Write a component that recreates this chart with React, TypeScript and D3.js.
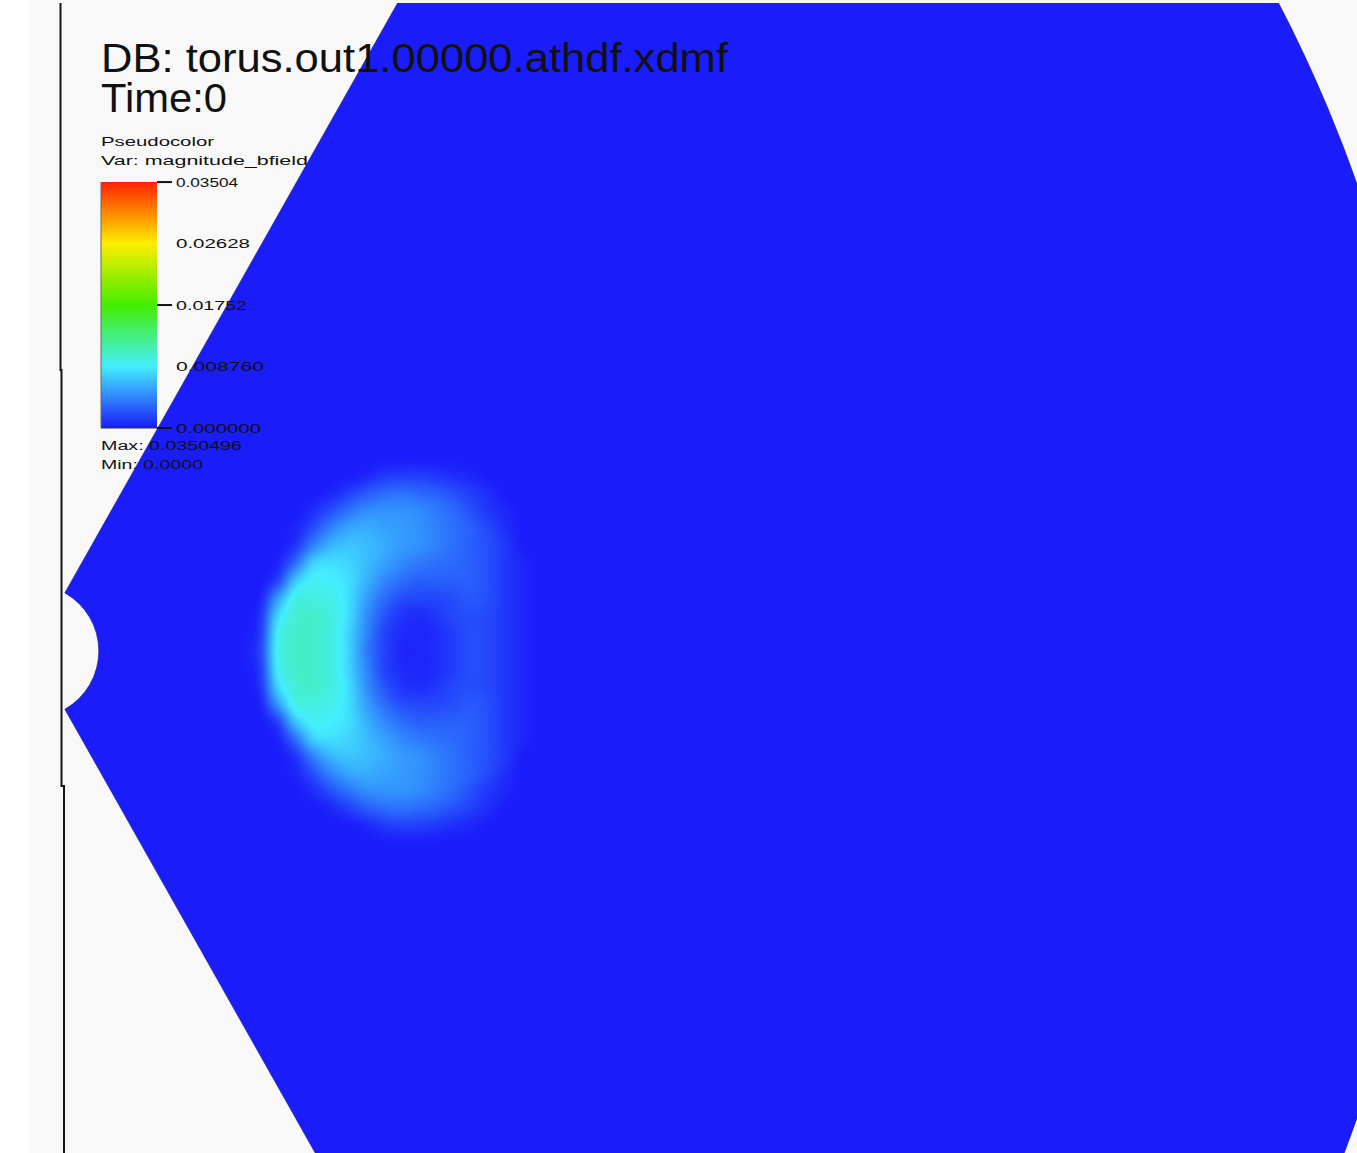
import React, { useMemo } from "react";
import * as d3 from "d3";

const W = 1357;
const H = 1153;

// Plot header and legend text
const titleLines = ["DB: torus.out1.00000.athdf.xdmf", "Time:0"];
const legendTitle = ["Pseudocolor", "Var: magnitude_bfield"];
const fieldMin = 0;
const fieldMax = 0.0350496;
const legendTicks = [0.03504, 0.02628, 0.01752, 0.00876, 0];
const legendTickLabels = ["0.03504", "0.02628", "0.01752", "0.008760", "0.000000"];
const legendTickMarked = [true, false, true, false, true];

// Mesh extent (code units): spherical-polar shell
const rInner = 1.9;
const rOuter = 40;
const thetaMin = 0.1635 * Math.PI;
const thetaMax = 0.8365 * Math.PI;

// |B| samples on the meridional plane: columns at cylindrical x, rows at height z
const gridX = [6.5, 7, 7.5, 8, 8.5, 9, 9.5, 10, 10.5, 11, 11.5, 12, 12.5, 13, 13.5, 14];
const gridZ = [5.5, 5, 4.5, 4, 3.5, 3, 2.5, 2, 1.5, 1, 0.5, 0, -0.5, -1, -1.5, -2, -2.5, -3, -3.5, -4, -4.5, -5, -5.5];
const bZp55 = [0, 0, 0, 0, 0, 0, 0, 0, 0, 0, 0, 0, 0, 0, 0, 0];
const bZp50 = [0, 0, 0, 0, 0, 0, 0.0004, 0.0011, 0.0014, 0.0014, 0.0011, 0.0007, 0.0004, 0, 0, 0];
const bZp45 = [0, 0, 0, 0, 0.0004, 0.0014, 0.0025, 0.0032, 0.0035, 0.0032, 0.0028, 0.0021, 0.0014, 0.0007, 0, 0];
const bZp40 = [0, 0, 0, 0.0007, 0.0021, 0.0035, 0.0046, 0.0049, 0.0049, 0.0046, 0.0039, 0.0032, 0.0021, 0.0011, 0.0004, 0];
const bZp35 = [0, 0, 0.0004, 0.0021, 0.0042, 0.0056, 0.006, 0.0056, 0.0053, 0.0049, 0.0042, 0.0035, 0.0028, 0.0018, 0.0007, 0];
const bZp30 = [0, 0, 0.0011, 0.0042, 0.0063, 0.007, 0.0067, 0.006, 0.0053, 0.0049, 0.0042, 0.0035, 0.0028, 0.0021, 0.0011, 0];
const bZp25 = [0, 0.0004, 0.0035, 0.0074, 0.0081, 0.0077, 0.0067, 0.0056, 0.0046, 0.0039, 0.0035, 0.0032, 0.0028, 0.0021, 0.0011, 0.0004];
const bZp20 = [0, 0.0018, 0.007, 0.0091, 0.0088, 0.0081, 0.0063, 0.0046, 0.0035, 0.0028, 0.0028, 0.0028, 0.0028, 0.0021, 0.0011, 0.0004];
const bZp15 = [0.0004, 0.0053, 0.0095, 0.0098, 0.0095, 0.0081, 0.0056, 0.0035, 0.0021, 0.0018, 0.0018, 0.0021, 0.0025, 0.0021, 0.0011, 0.0004];
const bZp10 = [0.0011, 0.0077, 0.0102, 0.0105, 0.0098, 0.0081, 0.0049, 0.0025, 0.0011, 0.0007, 0.0011, 0.0018, 0.0021, 0.0018, 0.0011, 0.0004];
const bZp05 = [0.0014, 0.0088, 0.0105, 0.0105, 0.0098, 0.0077, 0.0046, 0.0018, 0.0007, 0.0004, 0.0007, 0.0014, 0.0021, 0.0018, 0.0011, 0.0004];
const bZ00 = [0.0018, 0.0091, 0.0105, 0.0105, 0.0098, 0.0077, 0.0042, 0.0018, 0.0005, 0.0004, 0.0007, 0.0014, 0.0021, 0.0018, 0.0011, 0.0004];
const bZm05 = [0.0014, 0.0088, 0.0105, 0.0105, 0.0098, 0.0077, 0.0046, 0.0018, 0.0007, 0.0004, 0.0007, 0.0014, 0.0021, 0.0018, 0.0011, 0.0004];
const bZm10 = [0.0011, 0.0077, 0.0102, 0.0105, 0.0098, 0.0081, 0.0049, 0.0025, 0.0011, 0.0007, 0.0011, 0.0018, 0.0021, 0.0018, 0.0011, 0.0004];
const bZm15 = [0.0004, 0.0053, 0.0095, 0.0098, 0.0095, 0.0081, 0.0056, 0.0035, 0.0021, 0.0018, 0.0018, 0.0021, 0.0025, 0.0021, 0.0011, 0.0004];
const bZm20 = [0, 0.0018, 0.007, 0.0091, 0.0088, 0.0081, 0.0063, 0.0046, 0.0035, 0.0028, 0.0028, 0.0028, 0.0028, 0.0021, 0.0011, 0.0004];
const bZm25 = [0, 0.0004, 0.0035, 0.0074, 0.0081, 0.0077, 0.0067, 0.0056, 0.0046, 0.0039, 0.0035, 0.0032, 0.0028, 0.0021, 0.0011, 0.0004];
const bZm30 = [0, 0, 0.0011, 0.0042, 0.0063, 0.007, 0.0067, 0.006, 0.0053, 0.0049, 0.0042, 0.0035, 0.0028, 0.0021, 0.0011, 0];
const bZm35 = [0, 0, 0.0004, 0.0021, 0.0042, 0.0056, 0.006, 0.0056, 0.0053, 0.0049, 0.0042, 0.0035, 0.0028, 0.0018, 0.0007, 0];
const bZm40 = [0, 0, 0, 0.0007, 0.0021, 0.0035, 0.0046, 0.0049, 0.0049, 0.0046, 0.0039, 0.0032, 0.0021, 0.0011, 0.0004, 0];
const bZm45 = [0, 0, 0, 0, 0.0004, 0.0014, 0.0025, 0.0032, 0.0035, 0.0032, 0.0028, 0.0021, 0.0014, 0.0007, 0, 0];
const bZm50 = [0, 0, 0, 0, 0, 0, 0.0004, 0.0011, 0.0014, 0.0014, 0.0011, 0.0007, 0.0004, 0, 0, 0];
const bZm55 = [0, 0, 0, 0, 0, 0, 0, 0, 0, 0, 0, 0, 0, 0, 0, 0];
const bfieldRows = [
  bZp55, bZp50, bZp45, bZp40, bZp35, bZp30, bZp25, bZp20, bZp15, bZp10, bZp05, bZ00,
  bZm05, bZm10, bZm15, bZm20, bZm25, bZm30, bZm35, bZm40, bZm45, bZm50, bZm55,
];

// Colour table: blue -> cyan -> green -> yellow -> red
const tableColors = ["#1b1cfa", "#44eeff", "#44ee00", "#ffee00", "#ff2200"];

// Screen mapping of code units (origin of the shell at x=0, z=0)
const pxPerUnit = 35.125;
const originX = 32;
const originY = 651;
const xScale = d3.scaleLinear().domain([0, 1]).range([originX, originX + pxPerUnit]);
const zScale = d3.scaleLinear().domain([0, 1]).range([originY, originY - pxPerUnit]);

const colorScale = d3
  .scaleLinear<string>()
  .domain(tableColors.map((_, i) => fieldMin + ((fieldMax - fieldMin) * i) / (tableColors.length - 1)))
  .range(tableColors)
  .interpolate(d3.interpolateRgb)
  .clamp(true);

const legendY = d3.scaleLinear().domain([fieldMin, fieldMax]).range([428, 182]);

function sampleGrid(i: number, j: number): number {
  if (j < 0 || j >= bfieldRows.length) return 0;
  const row = bfieldRows[j];
  if (i < 0 || i >= row.length) return 0;
  return row[i];
}

// Catmull-Rom weights for smooth cell-to-cell shading
function cr(p0: number, p1: number, p2: number, p3: number, t: number) {
  return (
    0.5 *
    (2 * p1 + (-p0 + p2) * t + (2 * p0 - 5 * p1 + 4 * p2 - p3) * t * t + (-p0 + 3 * p1 - 3 * p2 + p3) * t * t * t)
  );
}

function fieldAt(x: number, z: number): number {
  const dx = gridX[1] - gridX[0];
  const dz = gridZ[0] - gridZ[1];
  const fx = (x - gridX[0]) / dx;
  const fz = (gridZ[0] - z) / dz;
  const i0 = Math.floor(fx);
  const j0 = Math.floor(fz);
  const tx = fx - i0;
  const tz = fz - j0;
  const rows: number[] = [];
  for (let m = -1; m <= 2; m++) {
    rows.push(
      cr(
        sampleGrid(i0 - 1, j0 + m),
        sampleGrid(i0, j0 + m),
        sampleGrid(i0 + 1, j0 + m),
        sampleGrid(i0 + 2, j0 + m),
        tx
      )
    );
  }
  return Math.max(0, cr(rows[0], rows[1], rows[2], rows[3], tz));
}

function useFieldImage() {
  return useMemo(() => {
    const x0 = Math.floor(xScale(gridX[0] - 1.5));
    const x1 = Math.ceil(xScale(gridX[gridX.length - 1] + 1.5));
    const y0 = Math.floor(zScale(gridZ[0] + 1.5));
    const y1 = Math.ceil(zScale(gridZ[gridZ.length - 1] - 1.5));
    const w = x1 - x0;
    const h = y1 - y0;
    if (typeof document === "undefined") return null;
    const canvas = document.createElement("canvas");
    canvas.width = w;
    canvas.height = h;
    const ctx = canvas.getContext("2d");
    if (!ctx) return null;
    const img = ctx.createImageData(w, h);
    for (let py = 0; py < h; py++) {
      const z = zScale.invert(y0 + py + 0.5);
      for (let px = 0; px < w; px++) {
        const x = xScale.invert(x0 + px + 0.5);
        const c = d3.rgb(colorScale(fieldAt(x, z)));
        const k = (py * w + px) * 4;
        img.data[k] = c.r;
        img.data[k + 1] = c.g;
        img.data[k + 2] = c.b;
        img.data[k + 3] = 255;
      }
    }
    ctx.putImageData(img, 0, 0);
    return { href: canvas.toDataURL(), x: x0, y: y0, w, h };
  }, []);
}

export default function App() {
  const field = useFieldImage();

  const shellPath = d3
    .arc()
    .innerRadius(rInner * pxPerUnit)
    .outerRadius(rOuter * pxPerUnit)
    .startAngle(thetaMin)
    .endAngle(thetaMax)({} as any) as string;

  const gradStops = tableColors.map((c, i) => ({
    offset: `${(100 * i) / (tableColors.length - 1)}%`,
    color: c,
  }));

  return (
    <svg
      width={W}
      height={H}
      style={{ position: "absolute", left: 0, top: 0, display: "block" }}
      fontFamily="'Liberation Sans', Arial, sans-serif"
    >
      <defs>
        <clipPath id="viewport">
          <rect x={0} y={3} width={W} height={H - 3} />
        </clipPath>
        <clipPath id="shell">
          <path d={shellPath} transform={`translate(${originX},${originY})`} />
        </clipPath>
        <linearGradient id="ctable" x1="0" y1="1" x2="0" y2="0">
          {gradStops.map((s, i) => (
            <stop key={i} offset={s.offset} stopColor={s.color} />
          ))}
        </linearGradient>
      </defs>

      <rect x={0} y={0} width={W} height={H} fill="#ffffff" />
      <rect x={29} y={0} width={W - 29} height={H} fill="#f8f8f8" />

      <path d="M60.5,3 V370 H61.5 V786 H64 V1153" fill="none" stroke="#141414" strokeWidth={2} />

      <g clipPath="url(#viewport)">
        <path
          d={shellPath}
          transform={`translate(${originX},${originY})`}
          fill={colorScale(0)}
          stroke="#20205a"
          strokeOpacity={0.55}
          strokeWidth={1}
        />
        {field && (
          <g clipPath="url(#shell)">
            <image href={field.href} x={field.x} y={field.y} width={field.w} height={field.h} />
          </g>
        )}
      </g>

      {/* legend colour bar */}
      <rect x={101} y={legendY(fieldMax)} width={56} height={legendY(fieldMin) - legendY(fieldMax)} fill="url(#ctable)" />
      <line x1={101} y1={legendY(fieldMax)} x2={101} y2={legendY(fieldMin)} stroke="#666" strokeWidth={1} />
      <line x1={101} y1={legendY(fieldMin)} x2={157} y2={legendY(fieldMin)} stroke="#333" strokeWidth={1} />

      {legendTicks.map((v, i) => (
        <g key={i}>
          {legendTickMarked[i] && (
            <line x1={157} x2={172} y1={legendY(v)} y2={legendY(v)} stroke="#111" strokeWidth={2} />
          )}
          <text
            x={176}
            y={legendY(v) + 4.5}
            fontSize={12.5}
            fill="#111"
            textLength={[62, 74, 71, 88, 85][i]}
            lengthAdjust="spacingAndGlyphs"
          >
            {legendTickLabels[i]}
          </text>
        </g>
      ))}

      <text x={101} y={450} fontSize={12.5} fill="#111" textLength={141} lengthAdjust="spacingAndGlyphs">
        {`Max: ${fieldMax}`}
      </text>
      <text x={101} y={469} fontSize={12.5} fill="#111" textLength={102} lengthAdjust="spacingAndGlyphs">
        {`Min: ${fieldMin.toFixed(4)}`}
      </text>

      <text x={101} y={146} fontSize={13} fill="#111" textLength={113} lengthAdjust="spacingAndGlyphs">
        {legendTitle[0]}
      </text>
      <text x={101} y={165} fontSize={13} fill="#111" textLength={207} lengthAdjust="spacingAndGlyphs">
        {legendTitle[1]}
      </text>

      <text x={101} y={72} fontSize={40} fill="#111" textLength={627} lengthAdjust="spacingAndGlyphs">
        {titleLines[0]}
      </text>
      <text x={101} y={112} fontSize={40} fill="#111" textLength={126} lengthAdjust="spacingAndGlyphs">
        {titleLines[1]}
      </text>
    </svg>
  );
}
